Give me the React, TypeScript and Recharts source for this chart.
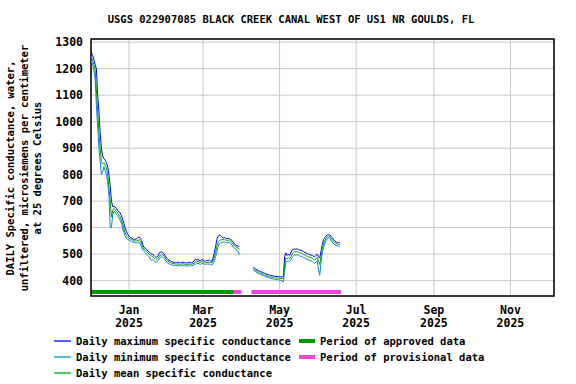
import React from 'react';
import { LineChart, Line, XAxis, YAxis, CartesianGrid, ReferenceArea } from 'recharts';

// days counted from Jan 1 2025 (Dec 2 2024 = -30)
const startA = -30;
const startB = 99;

const meanA = [
  1245, 1232, 1215, 1195, 1120, 1040, 960, 900, 850, 840,
  845, 835, 825, 800, 750, 700, 640, 665, 672, 668,
  660, 655, 648, 640, 630, 612, 595, 580, 570, 565,
  560, 557, 555, 553, 550, 550, 550, 552, 554, 550,
  540, 525, 518, 515, 510, 505, 500, 497, 493, 490,
  485, 482, 480, 483, 490, 496, 498, 497, 492, 485,
  478, 474, 470, 468, 466, 464, 464, 463, 462, 463,
  462, 461, 463, 464, 462, 461, 460, 462, 463, 461,
  462, 464, 466, 470, 471, 473, 470, 468, 472, 470,
  468, 467, 469, 468, 470, 468, 467, 475, 490, 505,
  530, 545, 550, 553, 555, 554, 556, 553, 552, 553,
  551, 548, 545, 538, 532, 528, 525, 522, 518
];
const maxA = [
  1262, 1250, 1235, 1215, 1200, 1100, 1040, 960, 900, 870,
  860, 855, 845, 830, 800, 760, 700, 680, 680, 678,
  672, 665, 660, 655, 645, 630, 615, 598, 585, 575,
  568, 563, 560, 558, 556, 556, 558, 562, 565, 560,
  552, 535, 525, 522, 518, 512, 508, 505, 500, 498,
  495, 490, 488, 492, 503, 508, 508, 506, 500, 493,
  485, 480, 476, 474, 471, 470, 469, 468, 468, 470,
  468, 467, 469, 470, 468, 467, 466, 468, 470, 467,
  468, 471, 474, 482, 478, 480, 476, 474, 480, 478,
  474, 473, 477, 474, 478, 474, 473, 485, 505, 530,
  555, 568, 572, 570, 565, 560, 563, 560, 558, 560,
  558, 555, 552, 545, 538, 534, 532, 530, 528
];
const minA = [
  1230, 1215, 1195, 1160, 1060, 980, 900, 850, 800, 810,
  830, 815, 800, 770, 720, 600, 600, 650, 662, 658,
  650, 645, 637, 628, 615, 595, 580, 568, 560, 556,
  553, 550, 548, 546, 544, 543, 543, 545, 546, 538,
  525, 515, 510, 506, 500, 495, 490, 480, 475, 480,
  475, 470, 470, 475, 482, 488, 490, 488, 483, 477,
  470, 467, 463, 461, 460, 458, 458, 457, 456, 457,
  456, 455, 457, 458, 456, 455, 454, 456, 457, 455,
  456, 458, 460, 463, 464, 466, 463, 461, 465, 464,
  462, 461, 463, 462, 463, 461, 460, 463, 475, 490,
  505, 530, 540, 543, 545, 545, 547, 544, 543, 545,
  543, 540, 536, 528, 522, 518, 515, 510, 497
];

const meanB = [
  445, 441, 438, 435, 432, 430, 428, 426, 424, 422,
  420, 418, 416, 415, 414, 413, 412, 411, 410, 410,
  409, 409, 408, 407, 410, 460, 485, 483, 486, 482,
  490, 500, 505, 510, 508, 510, 507, 505, 505, 502,
  500, 497, 495, 492, 490, 488, 487, 485, 480, 478,
  482, 488, 475, 460, 490, 520, 540, 550, 560, 565,
  568, 566, 560, 555, 548, 543, 540, 538, 537, 536
];
const maxB = [
  450, 447, 444, 441, 438, 436, 434, 432, 430, 428,
  426, 424, 422, 421, 420, 419, 418, 417, 416, 416,
  415, 415, 414, 413, 418, 490, 505, 495, 500, 495,
  505, 515, 518, 520, 518, 520, 517, 515, 515, 512,
  510, 507, 505, 502, 500, 498, 497, 495, 492, 490,
  495, 500, 490, 485, 510, 535, 555, 562, 568, 572,
  574, 572, 568, 562, 555, 550, 546, 544, 543, 542
];
const minB = [
  440, 436, 433, 430, 427, 425, 423, 421, 419, 417,
  415, 413, 411, 410, 409, 408, 406, 405, 404, 404,
  403, 402, 401, 398, 395, 430, 470, 472, 475, 472,
  478, 488, 492, 498, 496, 498, 495, 493, 492, 490,
  488, 485, 482, 480, 478, 476, 475, 472, 468, 466,
  470, 475, 440, 420, 470, 505, 525, 540, 550, 558,
  562, 560, 553, 546, 540, 536, 533, 531, 530, 530
];

const approvedPeriods = [[-30.3, 83.5]];
const provisionalPeriods = [[83.5, 89.6], [97.6, 169]];

const monthTicks = [0, 59, 120, 181, 243, 304];
const monthNames = ['Jan', 'Mar', 'May', 'Jul', 'Sep', 'Nov'];
const tickYear = '2025';
const yTicks = [400, 500, 600, 700, 800, 900, 1000, 1100, 1200, 1300];
const xDomain = [-30.3, 338.7];
const yDomain = [342, 1312];
const periodBand = [350, 365];

const title = 'USGS 022907085 BLACK CREEK CANAL WEST OF US1 NR GOULDS, FL';
const yLabel = ['DAILY Specific conductance, water,', 'unfiltered, microsiemens per centimeter', 'at 25 degrees Celsius'];

const MAX_C = '#0000FF';
const MIN_C = '#0A88DC';
const MEAN_C = '#00A800';
const APPROVED_C = '#009900';
const PROV_C = '#EE44DD';

const legendLines = [
  { label: 'Daily maximum specific conductance', color: MAX_C },
  { label: 'Daily minimum specific conductance', color: MIN_C },
  { label: 'Daily mean specific conductance', color: MEAN_C }
];
const legendPeriods = [
  { label: 'Period of approved data', color: APPROVED_C },
  { label: 'Period of provisional data', color: PROV_C }
];

const rows: any[] = [];
const endB = startB + meanB.length - 1;
for (let d = startA; d <= endB; d++) {
  const ia = d - startA;
  const ib = d - startB;
  if (ia < meanA.length) {
    rows.push({ day: d, max: maxA[ia], min: minA[ia], mean: meanA[ia] });
  } else if (ib >= 0) {
    rows.push({ day: d, max: maxB[ib], min: minB[ib], mean: meanB[ib] });
  } else {
    rows.push({ day: d, max: null, min: null, mean: null });
  }
}

const FONT = '"DejaVu Sans Mono", monospace';

const MonthTick = (props: any) => {
  const { x, y, payload } = props;
  const i = monthTicks.indexOf(payload.value);
  return (
    <text x={x} textAnchor="middle" fontFamily={FONT} fontWeight="bold" fontSize={11.5} fill="#000">
      <tspan x={x} y={y + 10}>{monthNames[i]}</tspan>
      <tspan x={x} y={y + 23}>{tickYear}</tspan>
    </text>
  );
};

export default function App() {
  return (
    <div style={{ position: 'absolute', left: 0, top: 0, width: 576, height: 384, background: '#fff', fontFamily: FONT, fontWeight: 'bold', color: '#000' }}>
      <div style={{ position: 'absolute', left: 6, top: 12, width: 570, textAlign: 'center', fontSize: 10.5, lineHeight: '14px', whiteSpace: 'nowrap' }}>
        {title}
      </div>
      <div style={{ position: 'absolute', left: 25 - 160, top: 168 - 21, width: 320, height: 42, transform: 'rotate(-90deg)', textAlign: 'center', fontSize: 10.5, lineHeight: '13.5px', whiteSpace: 'nowrap' }}>
        {yLabel.map(l => <div key={l}>{l}</div>)}
      </div>
      <LineChart width={576} height={384} data={rows} margin={{ top: 39, right: 22, left: 41, bottom: 58 }} style={{ position: 'absolute', left: 0, top: 0 }}>
        <CartesianGrid stroke="#c8c8c8" strokeWidth={1} />
        <XAxis dataKey="day" type="number" domain={xDomain} ticks={monthTicks} interval={0} tickLine={false} axisLine={false} height={30} tick={<MonthTick />} allowDataOverflow />
        <YAxis type="number" domain={yDomain} ticks={yTicks} interval={0} tickLine={false} axisLine={false} width={50} allowDataOverflow
          tick={{ fontFamily: FONT, fontWeight: 'bold', fontSize: 11.5, fill: '#000' }} />
        {approvedPeriods.map(([a, b]) => (
          <ReferenceArea key={'a' + a} x1={a} x2={b} y1={periodBand[0]} y2={periodBand[1]} fill={APPROVED_C} fillOpacity={1} stroke="none" />
        ))}
        {provisionalPeriods.map(([a, b]) => (
          <ReferenceArea key={'p' + a} x1={a} x2={b} y1={periodBand[0]} y2={periodBand[1]} fill={PROV_C} fillOpacity={1} stroke="none" />
        ))}
        <Line type="linear" dataKey="max" stroke={MAX_C} strokeWidth={1} dot={false} isAnimationActive={false} />
        <Line type="linear" dataKey="min" stroke={MIN_C} strokeWidth={1} dot={false} isAnimationActive={false} />
        <Line type="linear" dataKey="mean" stroke={MEAN_C} strokeWidth={1} dot={false} isAnimationActive={false} />
        <ReferenceArea x1={xDomain[0]} x2={xDomain[1]} y1={yDomain[0]} y2={yDomain[1]} fill="none" stroke="#000" strokeWidth={1.5} ifOverflow="visible" />
      </LineChart>
      {legendLines.map((it, i) => (
        <div key={it.label} style={{ position: 'absolute', left: 54, top: 334 + i * 16, height: 14, display: 'flex', alignItems: 'center', fontSize: 10.5, whiteSpace: 'nowrap' }}>
          <svg width={17} height={4} style={{ marginRight: 5, flexShrink: 0 }}>
            <line x1={0} y1={2} x2={17} y2={2} stroke={it.color} strokeWidth={1.3} />
          </svg>
          {it.label}
        </div>
      ))}
      {legendPeriods.map((it, i) => (
        <div key={it.label} style={{ position: 'absolute', left: 299, top: 334 + i * 16, height: 14, display: 'flex', alignItems: 'center', fontSize: 10.5, whiteSpace: 'nowrap' }}>
          <svg width={16} height={4} style={{ marginRight: 5, flexShrink: 0 }}>
            <rect x={0} y={0} width={16} height={4} fill={it.color} />
          </svg>
          {it.label}
        </div>
      ))}
    </div>
  );
}
